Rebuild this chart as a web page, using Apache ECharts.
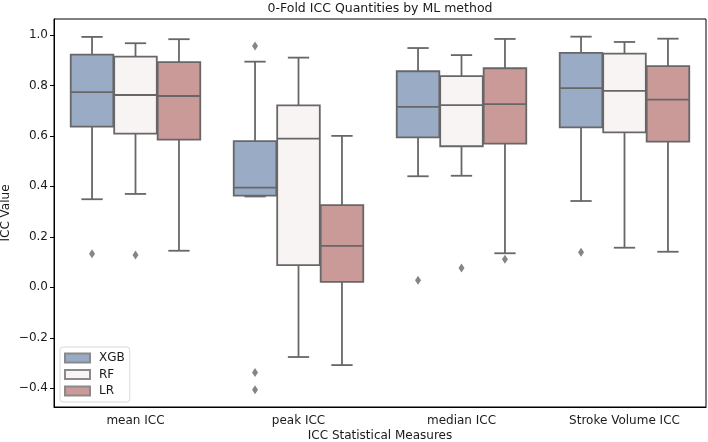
<!DOCTYPE html>
<html>
<head>
<meta charset="utf-8">
<script src="https://cdn.jsdelivr.net/npm/echarts@6/dist/echarts.min.js"></script>
<style>
html,body{margin:0;padding:0;background:#fff;}
#chart{width:708px;height:442px;}
</style>
</head>
<body>
<div id="chart"></div>
<script>
// Categories and methods
const categories = ['mean ICC', 'peak ICC', 'median ICC', 'Stroke Volume ICC'];
const methods = ['XGB', 'RF', 'LR'];

// Box statistics per category: [lower whisker, Q1, median, Q3, upper whisker]
const xgbStats = [
  [0.349, 0.637, 0.773, 0.922, 0.992],
  [0.360, 0.363, 0.395, 0.579, 0.894],
  [0.440, 0.594, 0.715, 0.856, 0.948],
  [0.342, 0.634, 0.789, 0.929, 0.993]
];
const rfStats = [
  [0.370, 0.609, 0.762, 0.914, 0.967],
  [-0.276, 0.088, 0.589, 0.721, 0.910],
  [0.442, 0.559, 0.722, 0.837, 0.920],
  [0.157, 0.614, 0.778, 0.926, 0.972]
];
const lrStats = [
  [0.145, 0.585, 0.758, 0.892, 0.983],
  [-0.308, 0.022, 0.164, 0.326, 0.600],
  [0.135, 0.569, 0.726, 0.868, 0.984],
  [0.141, 0.577, 0.744, 0.876, 0.985]
];

// Outliers: [category index, value]
const xgbOutliers = [[0, 0.133], [1, 0.956], [1, -0.337], [1, -0.406], [2, 0.028], [3, 0.139]];
const rfOutliers = [[0, 0.128], [2, 0.077]];
const lrOutliers = [[2, 0.111]];

// Y axis ticks
const yTicks = [-0.4, -0.2, 0.0, 0.2, 0.4, 0.6, 0.8, 1.0];
const yMin = -0.474;
const yMax = 1.063;

const colors = ['#9aabc5', '#f8f4f3', '#ca9a99'];
const lineColor = '#676767';
const offsets = [-1, 0, 1];

function makeRender(k) {
  return function (params, api) {
    const cat = api.value(0);
    const bw = api.size([1, 0])[0];
    const slot = bw * 0.8 / 3;
    const cx = api.coord([cat, 0])[0] + offsets[k] * slot;
    const w = slot * 0.98;
    const capW = w / 2;
    const yLo = api.coord([cat, api.value(1)])[1];
    const yQ1 = api.coord([cat, api.value(2)])[1];
    const yMed = api.coord([cat, api.value(3)])[1];
    const yQ3 = api.coord([cat, api.value(4)])[1];
    const yHi = api.coord([cat, api.value(5)])[1];
    const ls = { stroke: lineColor, lineWidth: 1.8 };
    return {
      type: 'group',
      children: [
        { type: 'line', shape: { x1: cx, y1: yHi, x2: cx, y2: yQ3 }, style: ls },
        { type: 'line', shape: { x1: cx, y1: yQ1, x2: cx, y2: yLo }, style: ls },
        { type: 'line', shape: { x1: cx - capW / 2, y1: yHi, x2: cx + capW / 2, y2: yHi }, style: ls },
        { type: 'line', shape: { x1: cx - capW / 2, y1: yLo, x2: cx + capW / 2, y2: yLo }, style: ls },
        { type: 'rect', shape: { x: cx - w / 2, y: yQ3, width: w, height: yQ1 - yQ3 },
          style: { fill: colors[k], stroke: lineColor, lineWidth: 1.8 } },
        { type: 'line', shape: { x1: cx - w / 2, y1: yMed, x2: cx + w / 2, y2: yMed }, style: ls }
      ]
    };
  };
}

const allStats = [xgbStats, rfStats, lrStats];
const allOutliers = [xgbOutliers, rfOutliers, lrOutliers];

const series = [];
methods.forEach(function (m, k) {
  series.push({
    name: m,
    type: 'custom',
    renderItem: makeRender(k),
    encode: { x: 0, y: [1, 2, 3, 4, 5] },
    itemStyle: { color: colors[k], borderColor: '#8a8a8a', borderWidth: 0.8 },
    data: allStats[k].map(function (s, i) { return [i].concat(s); }),
    z: 2
  });
});
const plotWidth = 708 - 54 - 2;
const slotPx = plotWidth / categories.length * 0.8 / 3;
methods.forEach(function (m, k) {
  series.push({
    name: m + ' outliers',
    type: 'scatter',
    symbol: 'diamond',
    symbolSize: [6, 9],
    symbolOffset: [offsets[k] * slotPx, 0],
    itemStyle: { color: lineColor },
    data: allOutliers[k],
    z: 3
  });
});

const chart = echarts.init(document.getElementById('chart'), null, { renderer: 'canvas' });
const fontFamily = 'DejaVu Sans';
chart.setOption({
  animation: false,
  backgroundColor: '#fff',
  textStyle: { fontFamily: fontFamily },
  title: {
    text: '0-Fold ICC Quantities by ML method',
    left: 380,
    textAlign: 'center',
    top: 2,
    padding: 0,
    textStyle: { fontFamily: fontFamily, fontSize: 12.5, fontWeight: 'normal', color: '#1a1a1a' }
  },
  legend: {
    data: methods,
    orient: 'vertical',
    left: 60,
    top: 347,
    icon: 'rect',
    itemWidth: 25,
    itemHeight: 9,
    itemGap: 4.5,
    padding: [5, 5, 5, 4],
    backgroundColor: '#fff',
    borderColor: '#d9d9d9',
    borderWidth: 1,
    borderRadius: 3,
    textStyle: { fontFamily: fontFamily, fontSize: 12, color: '#1a1a1a', padding: [0, 0, 0, 4] }
  },
  grid: {
    left: 54, right: 2, top: 19, bottom: 35,
    outerBoundsMode: 'none',
    containLabel: false,
    show: true, borderColor: '#000', borderWidth: 1, backgroundColor: 'transparent'
  },
  xAxis: {
    type: 'category',
    data: categories,
    boundaryGap: true,
    name: 'ICC Statistical Measures',
    nameLocation: 'middle',
    nameGap: 23,
    nameMoveOverlap: false,
    nameTextStyle: { fontFamily: fontFamily, fontSize: 12, color: '#1a1a1a' },
    axisLine: { onZero: false, lineStyle: { color: '#000', width: 1 } },
    axisTick: { alignWithLabel: true, length: 4, lineStyle: { color: '#000' } },
    axisLabel: { fontFamily: fontFamily, fontSize: 12, color: '#1a1a1a', margin: 8 },
    splitLine: { show: false }
  },
  yAxis: {
    type: 'value',
    min: yMin,
    max: yMax,
    name: 'ICC Value',
    nameLocation: 'middle',
    nameGap: 42,
    nameMoveOverlap: false,
    nameTextStyle: { fontFamily: fontFamily, fontSize: 12, color: '#1a1a1a' },
    axisLine: { show: true, onZero: false, lineStyle: { color: '#000', width: 1 } },
    axisTick: { show: true, length: 4, customValues: yTicks, lineStyle: { color: '#000' } },
    axisLabel: {
      fontFamily: fontFamily, fontSize: 12, color: '#1a1a1a', margin: 6,
      customValues: yTicks,
      formatter: function (v) { return (v < 0 ? '\u2212' : '') + Math.abs(v).toFixed(1); }
    },
    splitLine: { show: false }
  },
  series: series
});
</script>
</body>
</html>
